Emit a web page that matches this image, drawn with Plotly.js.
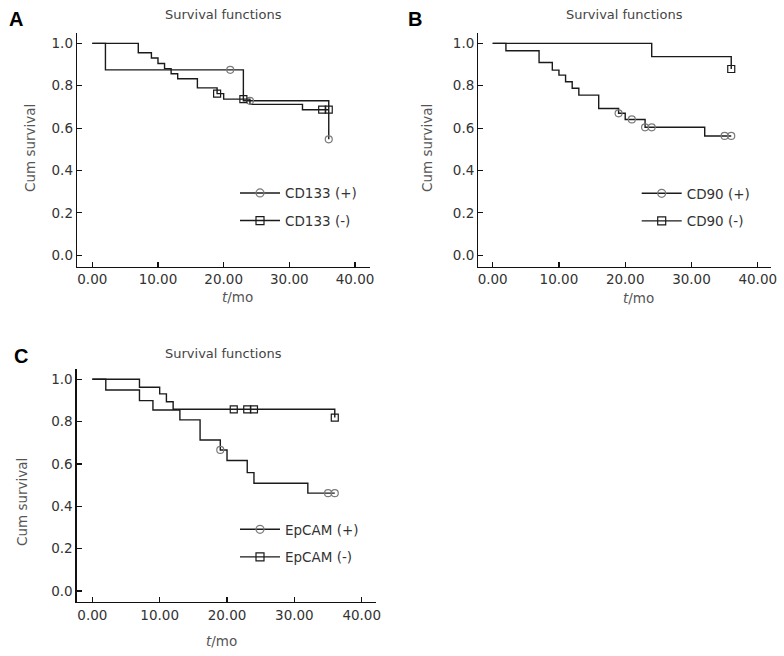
<!DOCTYPE html>
<html>
<head>
<meta charset="utf-8">
<script src="https://cdn.plot.ly/plotly-3.0.1.min.js"></script>
<style>html,body{margin:0;padding:0;background:#fff;}#chart{width:784px;height:656px;}</style>
</head>
<body>
<div id="chart"></div>
<script>
// ---- Panel A: CD133 ----
const cd133PosT = [0, 2, 23, 36];
const cd133PosS = [1, 0.875, 0.729, 0.547];
const cd133PosCensT = [21, 24, 36];
const cd133PosCensS = [0.875, 0.729, 0.547];
const cd133NegT = [0, 7, 9, 10, 11, 12, 13, 16, 19, 20, 24, 32, 36];
const cd133NegS = [1, 0.956, 0.931, 0.905, 0.881, 0.857, 0.833, 0.790, 0.763, 0.737, 0.712, 0.687, 0.687];
const cd133NegCensT = [19, 23, 35, 36];
const cd133NegCensS = [0.763, 0.737, 0.687, 0.687];

// ---- Panel B: CD90 ----
const cd90PosT = [0, 2, 7, 9, 10, 11, 12, 13, 16, 19, 20, 23, 32, 36];
const cd90PosS = [1, 0.965, 0.910, 0.874, 0.850, 0.819, 0.788, 0.756, 0.693, 0.670, 0.641, 0.604, 0.563, 0.563];
const cd90PosCensT = [19, 21, 23, 24, 35, 36];
const cd90PosCensS = [0.670, 0.641, 0.604, 0.604, 0.563, 0.563];
const cd90NegT = [0, 24, 36];
const cd90NegS = [1, 0.9375, 0.879];
const cd90NegCensT = [36];
const cd90NegCensS = [0.879];

// ---- Panel C: EpCAM ----
const epPosT = [0, 2, 7, 9, 13, 16, 19, 20, 23, 24, 32, 36];
const epPosS = [1, 0.949, 0.899, 0.855, 0.808, 0.713, 0.666, 0.616, 0.559, 0.509, 0.462, 0.462];
const epPosCensT = [19, 35, 36];
const epPosCensS = [0.666, 0.462, 0.462];
const epNegT = [0, 7, 10, 11, 12, 36];
const epNegS = [1, 0.962, 0.931, 0.894, 0.858, 0.819];
const epNegCensT = [21, 23, 24, 36];
const epNegCensS = [0.858, 0.858, 0.858, 0.819];

const panelLetters = ['A', 'B', 'C'];
const legendNames = [['CD133 (+)', 'CD133 (-)'], ['CD90 (+)', 'CD90 (-)'], ['EpCAM (+)', 'EpCAM (-)']];
const xTicks = [0, 10, 20, 30, 40];
const yTicks = [0, 0.2, 0.4, 0.6, 0.8, 1.0];

const FONT = 'DejaVu Sans, Verdana, sans-serif';
const W = 784, H = 656;
const px = v => v / W;
const py = v => (H - v) / H;

const circleColor = '#7a7a7a';
const lineColor = '#1a1a1a';

function curve(t, s, xa, ya) {
  return {x: t, y: s, xaxis: xa, yaxis: ya, type: 'scatter', mode: 'lines',
    line: {shape: 'hv', color: lineColor, width: 1.4}, showlegend: false, hoverinfo: 'skip'};
}
function cens(t, s, xa, ya, sym, col) {
  return {x: t, y: s, xaxis: xa, yaxis: ya, type: 'scatter', mode: 'markers',
    marker: {symbol: sym, size: 7, color: col, line: {color: col, width: 1.2}},
    showlegend: false, hoverinfo: 'skip'};
}
function legItem(name, xa, ya, sym, col, leg, grp) {
  return {x: [null], y: [null], xaxis: xa, yaxis: ya, type: 'scatter', mode: 'lines+markers', name: name,
    line: {color: lineColor, width: 1.4},
    marker: {symbol: sym, size: 8, color: col, line: {color: col, width: 1.2}},
    legend: leg, legendgroup: grp, showlegend: true};
}

const data = [
  curve(cd133PosT, cd133PosS, 'x', 'y'),
  curve(cd133NegT, cd133NegS, 'x', 'y'),
  cens(cd133PosCensT, cd133PosCensS, 'x', 'y', 'circle-open', circleColor),
  cens(cd133NegCensT, cd133NegCensS, 'x', 'y', 'square-open', lineColor),
  legItem(legendNames[0][0], 'x', 'y', 'circle-open', circleColor, 'legend', 'a1'),
  legItem(legendNames[0][1], 'x', 'y', 'square-open', lineColor, 'legend', 'a2'),

  curve(cd90PosT, cd90PosS, 'x2', 'y2'),
  curve(cd90NegT, cd90NegS, 'x2', 'y2'),
  cens(cd90PosCensT, cd90PosCensS, 'x2', 'y2', 'circle-open', circleColor),
  cens(cd90NegCensT, cd90NegCensS, 'x2', 'y2', 'square-open', lineColor),
  legItem(legendNames[1][0], 'x2', 'y2', 'circle-open', circleColor, 'legend2', 'b1'),
  legItem(legendNames[1][1], 'x2', 'y2', 'square-open', lineColor, 'legend2', 'b2'),

  curve(epPosT, epPosS, 'x3', 'y3'),
  curve(epNegT, epNegS, 'x3', 'y3'),
  cens(epPosCensT, epPosCensS, 'x3', 'y3', 'circle-open', circleColor),
  cens(epNegCensT, epNegCensS, 'x3', 'y3', 'square-open', lineColor),
  legItem(legendNames[2][0], 'x3', 'y3', 'circle-open', circleColor, 'legend3', 'c1'),
  legItem(legendNames[2][1], 'x3', 'y3', 'square-open', lineColor, 'legend3', 'c2')
];

function xAx(domain, range, anchor) {
  return {domain: domain, range: range, anchor: anchor, showline: true, linecolor: '#111', linewidth: 1.3,
    ticks: 'inside', ticklen: 5, tickwidth: 1.2, tickcolor: '#111', tickvals: xTicks, tickformat: '.2f',
    showgrid: false, zeroline: false, tickfont: {family: FONT, size: 13.5, color: '#333'}, fixedrange: true};
}
function yAx(domain, range, anchor) {
  return {domain: domain, range: range, anchor: anchor, showline: true, linecolor: '#111', linewidth: 1.3,
    ticks: 'inside', ticklen: 5, tickwidth: 1.2, tickcolor: '#111', tickvals: yTicks, tickformat: '.1f',
    showgrid: false, zeroline: false, tickfont: {family: FONT, size: 13.5, color: '#333'}, fixedrange: true};
}
function legendAt(x, y) {
  return {x: x, y: y, xanchor: 'left', yanchor: 'top', xref: 'paper', yref: 'paper', bgcolor: 'rgba(0,0,0,0)',
    borderwidth: 0, itemwidth: 40, tracegroupgap: 7, font: {family: FONT, size: 13.5, color: '#333'}, traceorder: 'grouped'};
}

const ann = [];
function txt(x, y, text, size, color, extra) {
  ann.push(Object.assign({xref: 'paper', yref: 'paper', x: px(x), y: py(y), xanchor: 'center', yanchor: 'middle',
    text: text, showarrow: false, font: {family: FONT, size: size, color: color}}, extra || {}));
}
const letterFont = {family: 'Liberation Sans, Arial, sans-serif', size: 20, color: '#000', weight: 'bold'};
// panel letters
txt(16, 19, panelLetters[0], 20, '#000', {font: letterFont});
txt(415, 19, panelLetters[1], 20, '#000', {font: letterFont});
txt(21, 356, panelLetters[2], 20, '#000', {font: letterFont});
// panel titles
txt(223, 14, 'Survival functions', 13, '#444');
txt(624, 14, 'Survival functions', 13, '#444');
txt(223, 353, 'Survival functions', 13, '#444');
// axis titles
txt(30, 148, 'Cum survival', 13.5, '#555', {textangle: -90});
txt(427, 148, 'Cum survival', 13.5, '#555', {textangle: -90});
txt(22, 502, 'Cum survival', 13.5, '#555', {textangle: -90});
txt(237, 297, '<i>t</i>/mo', 13.5, '#555');
txt(638, 298, '<i>t</i>/mo', 13.5, '#555');
txt(221, 641, '<i>t</i>/mo', 13.5, '#555');

const layout = {
  width: W, height: H, margin: {l: 0, r: 0, t: 0, b: 0},
  paper_bgcolor: '#fff', plot_bgcolor: '#fff', showlegend: true,
  xaxis: xAx([px(77), px(370)], [-2.33, 42.28], 'y'),
  yaxis: yAx([py(266.7), py(33)], [-0.054, 1.049], 'x'),
  xaxis2: xAx([px(478.3), px(771)], [-2.17, 42.0], 'y2'),
  yaxis2: yAx([py(266.7), py(33)], [-0.054, 1.049], 'x2'),
  xaxis3: xAx([px(76.7), px(376)], [-2.32, 42.12], 'y3'),
  yaxis3: yAx([py(602), py(369.3)], [-0.052, 1.047], 'x3'),
  legend: legendAt(px(235), py(177.7)),
  legend2: legendAt(px(636.7), py(178)),
  legend3: legendAt(px(235), py(514)),
  annotations: ann
};

Plotly.newPlot('chart', data, layout, {staticPlot: true, displayModeBar: false});
</script>
</body>
</html>
